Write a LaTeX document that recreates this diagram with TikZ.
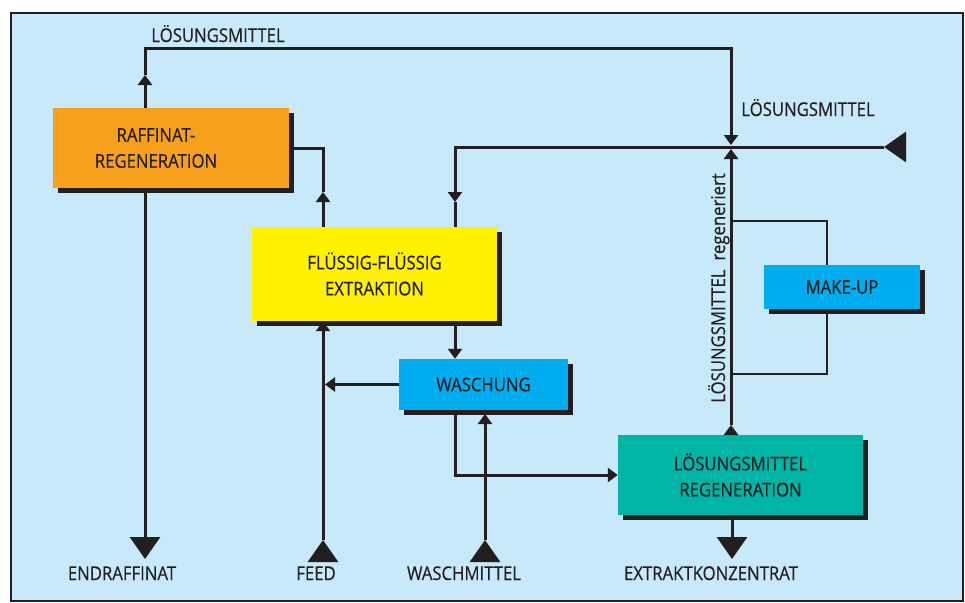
\documentclass[tikz,border=0pt]{standalone}
\usepackage{fontspec}
\setmainfont{Open Sans}[FakeStretch=0.88, FakeBold=0.4]
\usetikzlibrary{arrows.meta,shadows}
\definecolor{bgblue}{RGB}{200,233,249}
\definecolor{rafforange}{RGB}{247,160,30}
\definecolor{extryellow}{RGB}{255,242,0}
\definecolor{waschcyan}{RGB}{0,174,239}
\definecolor{regenteal}{RGB}{0,180,166}
\definecolor{linedark}{RGB}{35,31,32}

\begin{document}
\begin{tikzpicture}[x=1pt, y=-1pt,
    every node/.style={font=\fontsize{19}{26}\selectfont, text=linedark},
    unit/.style={inner sep=0pt, align=center,
        drop shadow={shadow xshift=5pt, shadow yshift=-5pt, opacity=1, fill=linedark}},
    flow/.style={line width=3pt, draw=linedark},
    loopline/.style={line width=2.2pt, draw=linedark},
    tip/.style={flow, -{Triangle[width=14pt,length=10pt]}},
    bigtip/.style={flow, -{Triangle[width=30pt,length=22pt]}},
    label/.style={anchor=base}]

    % Background
    \useasboundingbox (0,0) rectangle (965,602);
    \fill[white] (0,0) rectangle (965,602);
    \draw[line width=2.5pt, draw=linedark, fill=bgblue] (11,13) rectangle (963,601);

    % Units
    \node[unit, fill=rafforange, minimum width=236pt, minimum height=80pt] (raff) at (171,148) {RAFFINAT-\hspace*{30pt}\\REGENERATION\hspace*{30pt}};
    \node[unit, fill=extryellow, minimum width=245pt, minimum height=94pt] (extr) at (374.5,274) {FLÜSSIG-FLÜSSIG\\EXTRAKTION};
    \node[unit, fill=waschcyan, minimum width=169pt, minimum height=51pt] (wasch) at (483.5,384.5) {WASCHUNG};
    \node[unit, fill=waschcyan, minimum width=156pt, minimum height=44pt] (makeup) at (842,287) {MAKE-UP};
    \node[unit, fill=regenteal, minimum width=245pt, minimum height=80pt] (regen) at (740.5,475) {LÖSUNGSMITTEL\\REGENERATION};

    % Labels
    \node[label] (lmtop) at (218,42) {LÖSUNGSMITTEL};
    \node[label] (lmin) at (808,116) {LÖSUNGSMITTEL};
    \node[label, rotate=90] (lmreg) at (725,288) {LÖSUNGSMITTEL\hspace{9pt}regeneriert};
    \node[label] (endlab) at (122,580) {ENDRAFFINAT};
    \node[label] (feedlab) at (316,580) {FEED};
    \node[label] (waschlab) at (464,580) {WASCHMITTEL};
    \node[label] (extklab) at (711,580) {EXTRAKTKONZENTRAT};

    % Points on the lines
    \coordinate (jct) at (731,147);
    \coordinate (jctup) at (731,145);
    \coordinate (jctdown) at (731,149);
    \coordinate (solin) at (905,147);
    \coordinate (endr) at (145,559);
    \coordinate (feed) at (323,560);
    \coordinate (waschm) at (485,560);
    \coordinate (waschin) at (485,414);
    \coordinate (extk) at (732,559);

    % Raffinat-Regeneration -> Loesungsmittel
    \draw[tip] (145,0 |- raff.north) -- (145,75);
    \draw[tip] (145,75) |- (731,49) -- (jctup);

    % Loesungsmittel in -> Extraktion
    \draw[bigtip] (solin) -- ++(-21,0) coordinate (solintip);
    \draw[tip] (solintip) -- (455,147) -- (455,202);
    \draw[flow] (455,202) -- (455,0 |- extr.north);

    % regeneriert -> Loesungsmittel
    \draw[tip] (731,0 |- regen.north) -- (731,425);
    \draw[tip] (731,425) -- (jctdown);

    % Make-up loop
    \draw[loopline] (731,221) -| (827,0 |- makeup.north);
    \draw[loopline] (827,0 |- makeup.south) |- (731,374);

    % Extraktion -> Raffinat-Regeneration
    \draw[tip] (323,0 |- extr.north) -- (323,192);
    \draw[flow] (323,192) |- (raff.east);

    % Endraffinat
    \draw[bigtip] (145,0 |- raff.south) -- (endr);

    % Feed
    \draw[bigtip] (feed) -- ++(0,-20) coordinate (feedtop);
    \draw[tip] (feedtop) -- (323,0 |- extr.south);

    % Waschung
    \draw[tip] (wasch.west) -- (325,0 |- wasch.west);
    \draw[tip] (455,0 |- extr.south) -- (455,0 |- wasch.north);
    \draw[tip] (455,0 |- wasch.south) |- (regen.west);
    \draw[bigtip] (waschm) -- ++(0,-20) coordinate (waschmtop);
    \draw[tip] (waschmtop) -- (waschin);

    % Extraktkonzentrat
    \draw[bigtip] (732,0 |- regen.south) -- (extk);
\end{tikzpicture}
\end{document}
